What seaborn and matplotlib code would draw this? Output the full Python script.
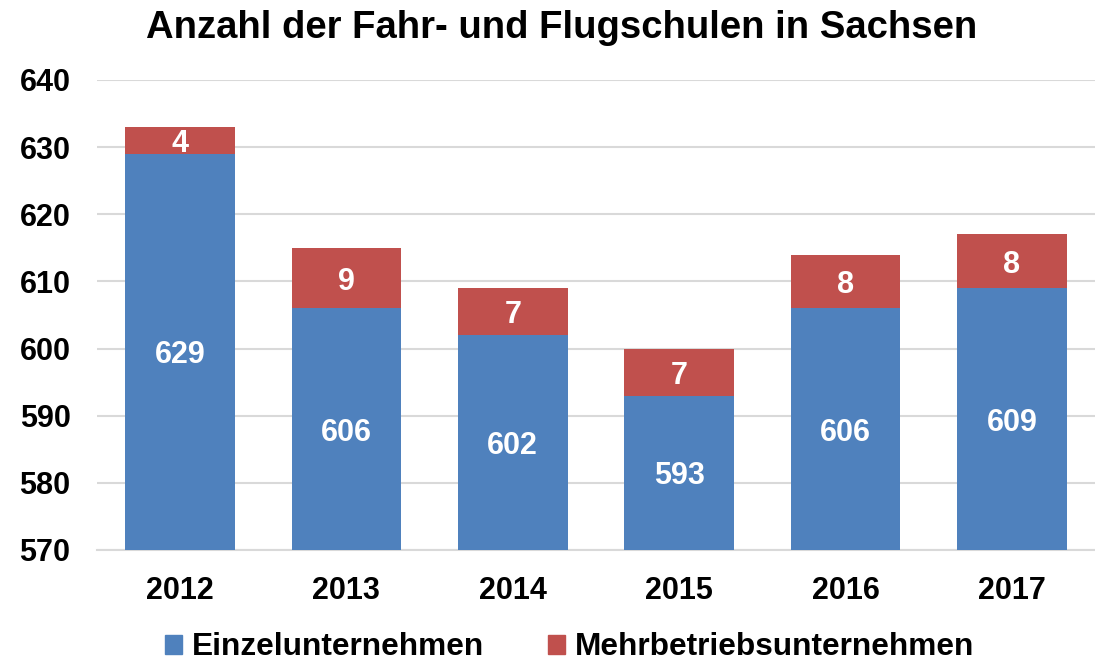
import matplotlib.pyplot as plt
import pandas as pd
import seaborn as sns
from matplotlib.patches import Patch

years = ["2012", "2013", "2014", "2015", "2016", "2017"]
einzel = [629, 606, 602, 593, 606, 609]
mehr = [4, 9, 7, 7, 8, 8]

BLUE = "#4F81BD"
RED = "#C0504D"
Y_MIN, Y_MAX = 570, 640

sns.set_theme(style="white")
plt.rcParams["font.family"] = ["Liberation Sans", "DejaVu Sans"]
plt.rcParams["text.color"] = "black"
plt.rcParams["xtick.color"] = "black"
plt.rcParams["ytick.color"] = "black"

df = pd.DataFrame({"year": years, "einzel": einzel, "mehr": mehr})
df["total"] = df["einzel"] + df["mehr"]

fig = plt.figure(figsize=(10.95, 6.61), dpi=100)
ax = fig.add_axes([0.0885, 0.168, 0.9115, 0.711])

# stacked look: full total in red, then the single-site part in blue on top
sns.barplot(data=df, x="year", y="total", color=RED, width=0.66,
            saturation=1, linewidth=0, ax=ax, zorder=2)
sns.barplot(data=df, x="year", y="einzel", color=BLUE, width=0.66,
            saturation=1, linewidth=0, ax=ax, zorder=3)

ax.set_ylim(Y_MIN, Y_MAX)
ax.set_yticks(range(Y_MIN, Y_MAX + 1, 10))
ax.yaxis.grid(True, color="#D9D9D9", linewidth=1.5, zorder=0)
ax.set_axisbelow(True)
for side in ["left", "right", "top"]:
    ax.spines[side].set_visible(False)
ax.spines["bottom"].set_color("#D9D9D9")
ax.spines["bottom"].set_linewidth(1.5)
ax.tick_params(axis="both", length=0, labelsize=22)
ax.tick_params(axis="x", pad=19)
ax.tick_params(axis="y", pad=19)
for lbl in ax.get_xticklabels() + ax.get_yticklabels():
    lbl.set_fontweight("bold")
    lbl.set_color("black")
ax.set_xlabel("")
ax.set_ylabel("")

for i, row in df.iterrows():
    ax.text(i, (Y_MIN + row["einzel"]) / 2, str(row["einzel"]), ha="center",
            va="center_baseline", color="white", fontsize=22, fontweight="bold",
            zorder=4)
    ax.text(i, row["einzel"] + row["mehr"] / 2, str(row["mehr"]), ha="center",
            va="center_baseline", color="white", fontsize=22, fontweight="bold",
            zorder=4)

fig.suptitle("Anzahl der Fahr- und Flugschulen in Sachsen", x=0.513, y=0.985,
             fontsize=27.5, fontweight="bold", color="black")

handles = [Patch(color=BLUE, label="Einzelunternehmen"),
           Patch(color=RED, label="Mehrbetriebsunternehmen")]
fig.legend(handles=handles, loc="lower center", bbox_to_anchor=(0.52, -0.045),
           ncol=2, frameon=False, handlelength=0.55, handleheight=0.55,
           handletextpad=0.3, columnspacing=2.0,
           prop={"weight": "bold", "size": 22.8})

fig.savefig("out.png", dpi=100)
